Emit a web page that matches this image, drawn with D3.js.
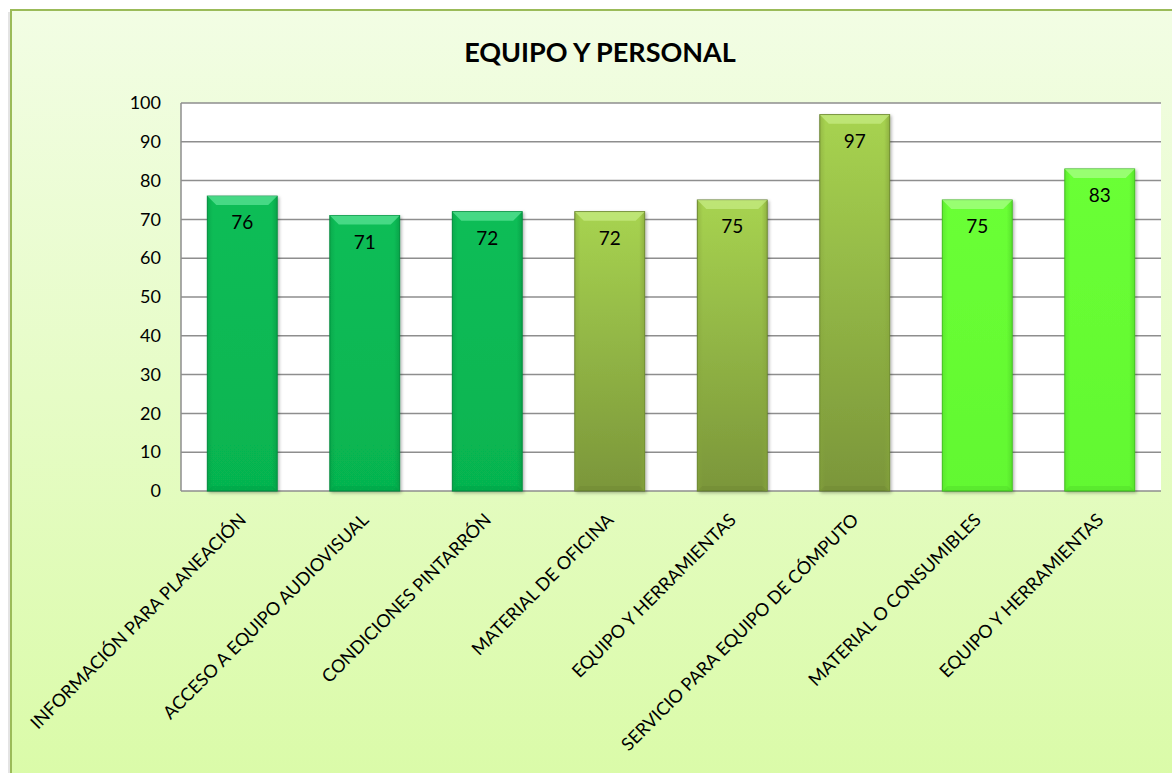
<!DOCTYPE html>
<html>
<head>
  <meta charset="utf-8">
  <title>EQUIPO Y PERSONAL</title>
  <script src="https://cdn.jsdelivr.net/npm/d3@7"></script>
  <style>
    body { margin: 0; font-family: Lato, "Open Sans", sans-serif; }
    .grid line { stroke: #8e8e8e; stroke-width: 1.5; }
    .tick text { fill: #000; }
  </style>
</head>
<body>
  <div id="chart"></div>
  <script>
    const categories = [
      "INFORMACIÓN PARA PLANEACIÓN",
      "ACCESO A EQUIPO AUDIOVISUAL",
      "CONDICIONES PINTARRÓN",
      "MATERIAL DE OFICINA",
      "EQUIPO Y HERRAMIENTAS",
      "SERVICIO PARA EQUIPO DE CÓMPUTO",
      "MATERIAL O CONSUMIBLES",
      "EQUIPO Y HERRAMIENTAS "
    ];
    const values = [76, 71, 72, 72, 75, 97, 75, 83];
    // colour group of each bar
    const groups = ["g", "g", "g", "o", "o", "o", "l", "l"];
    const yTicks = [0, 10, 20, 30, 40, 50, 60, 70, 80, 90, 100];

    const W = 1172, H = 773;
    const plot = {left: 181, right: 1161, top: 103, bottom: 491};

    const svg = d3.select("#chart").append("svg")
      .attr("width", W).attr("height", H);

    const defs = svg.append("defs");

    const bg = defs.append("linearGradient").attr("id", "bg")
      .attr("x1", 0).attr("y1", 0).attr("x2", 0).attr("y2", 1);
    bg.append("stop").attr("offset", "0%").attr("stop-color", "#f2fde4");
    bg.append("stop").attr("offset", "100%").attr("stop-color", "#dafba8");

    const palette = {
      g: {top: "#0cbd57", bottom: "#06b450", edge: "#02873a", bevel: "#5fe59a", side: "#079a44"},
      o: {top: "#a7d350", bottom: "#7b963a", edge: "#5f7a28", bevel: "#c8ec86", side: "#86a53c"},
      l: {top: "#6aff36", bottom: "#62f830", edge: "#3ab41c", bevel: "#adff8c", side: "#52d829"}
    };
    Object.entries(palette).forEach(([k, c]) => {
      const lg = defs.append("linearGradient").attr("id", "bar-" + k)
        .attr("x1", 0).attr("y1", 0).attr("x2", 0).attr("y2", 1);
      lg.append("stop").attr("offset", "0%").attr("stop-color", c.top);
      lg.append("stop").attr("offset", "100%").attr("stop-color", c.bottom);
      const sg = defs.append("linearGradient").attr("id", "side-" + k)
        .attr("x1", 0).attr("y1", 0).attr("x2", 1).attr("y2", 0);
      sg.append("stop").attr("offset", "0%").attr("stop-color", c.side).attr("stop-opacity", 0.5);
      sg.append("stop").attr("offset", "8%").attr("stop-color", c.side).attr("stop-opacity", 0);
      sg.append("stop").attr("offset", "92%").attr("stop-color", c.side).attr("stop-opacity", 0);
      sg.append("stop").attr("offset", "100%").attr("stop-color", c.side).attr("stop-opacity", 0.7);
    });

    const shadow = defs.append("filter").attr("id", "shadow")
      .attr("x", "-20%").attr("y", "-20%").attr("width", "140%").attr("height", "140%");
    shadow.append("feDropShadow").attr("dx", 1.5).attr("dy", 1.5)
      .attr("stdDeviation", 1.5).attr("flood-color", "#000").attr("flood-opacity", 0.3);

    // chart area
    svg.append("rect").attr("x", 0).attr("y", 0).attr("width", W).attr("height", H).attr("fill", "#ffffff");
    svg.append("rect").attr("x", 8).attr("y", 12).attr("width", 3).attr("height", H).attr("fill", "#e4e4e4");
    svg.append("rect").attr("x", 11).attr("y", 10).attr("width", W).attr("height", H)
      .attr("fill", "url(#bg)").attr("stroke", "#9bbb59").attr("stroke-width", 2);

    svg.append("text")
      .attr("x", 600).attr("y", 62)
      .attr("text-anchor", "middle")
      .attr("font-size", 27).attr("font-weight", "bold")
      .text("EQUIPO Y PERSONAL");

    const x = d3.scaleBand()
      .domain(d3.range(categories.length))
      .range([plot.left, plot.right])
      .paddingInner(0.43).paddingOuter(0.215);

    const y = d3.scaleLinear().domain([0, 100]).range([plot.bottom, plot.top]);

    // plot area
    svg.append("rect")
      .attr("x", plot.left).attr("y", plot.top)
      .attr("width", plot.right - plot.left).attr("height", plot.bottom - plot.top)
      .attr("fill", "#fff");

    svg.append("g").attr("class", "grid")
      .selectAll("line").data(yTicks).join("line")
      .attr("x1", plot.left).attr("x2", plot.right)
      .attr("y1", d => y(d)).attr("y2", d => y(d));

    svg.append("line")
      .attr("x1", plot.left).attr("x2", plot.left)
      .attr("y1", plot.top).attr("y2", plot.bottom)
      .attr("stroke", "#8e8e8e").attr("stroke-width", 1.5);

    const yAxis = svg.append("g")
      .attr("transform", `translate(${plot.left},0)`)
      .call(d3.axisLeft(y).tickValues(yTicks).tickSize(0).tickPadding(20));
    yAxis.select(".domain").remove();
    yAxis.selectAll("text").attr("font-size", 18).attr("font-family", "Lato, sans-serif");

    // bars
    const bars = svg.append("g").selectAll("g.bar")
      .data(values).join("g").attr("class", "bar");

    bars.append("rect")
      .attr("x", (d, i) => x(i)).attr("y", d => y(d))
      .attr("width", x.bandwidth()).attr("height", d => y(0) - y(d))
      .attr("fill", (d, i) => `url(#bar-${groups[i]})`)
      .attr("stroke", (d, i) => palette[groups[i]].edge).attr("stroke-width", 1)
      .attr("filter", "url(#shadow)");

    bars.append("rect")
      .attr("x", (d, i) => x(i)).attr("y", d => y(d))
      .attr("width", x.bandwidth()).attr("height", d => y(0) - y(d))
      .attr("fill", (d, i) => `url(#side-${groups[i]})`);

    const bevel = 9;
    bars.append("path")
      .attr("d", (d, i) => {
        const x0 = x(i), x1 = x(i) + x.bandwidth(), t = y(d);
        return `M${x0},${t}L${x1},${t}L${x1 - bevel},${t + bevel}L${x0 + bevel},${t + bevel}Z`;
      })
      .attr("fill", (d, i) => palette[groups[i]].bevel)
      .attr("opacity", 0.7);

    bars.append("path")
      .attr("d", (d, i) => {
        const x0 = x(i), x1 = x(i) + x.bandwidth(), b = y(0);
        return `M${x0},${b}L${x1},${b}L${x1 - 5},${b - 5}L${x0 + 5},${b - 5}Z`;
      })
      .attr("fill", (d, i) => palette[groups[i]].edge)
      .attr("opacity", 0.2);

    bars.append("text")
      .attr("x", (d, i) => x(i) + x.bandwidth() / 2)
      .attr("y", d => y(d) + 33)
      .attr("text-anchor", "middle")
      .attr("font-size", 19)
      .text(d => d);

    // category labels
    svg.append("g").selectAll("text")
      .data(categories).join("text")
      .attr("transform", (d, i) => `translate(${x(i) + x.bandwidth() / 2 + 5},${plot.bottom + 30}) rotate(-45)`)
      .attr("text-anchor", "end")
      .attr("font-size", 18)
      .text(d => d.trim());
  </script>
</body>
</html>
